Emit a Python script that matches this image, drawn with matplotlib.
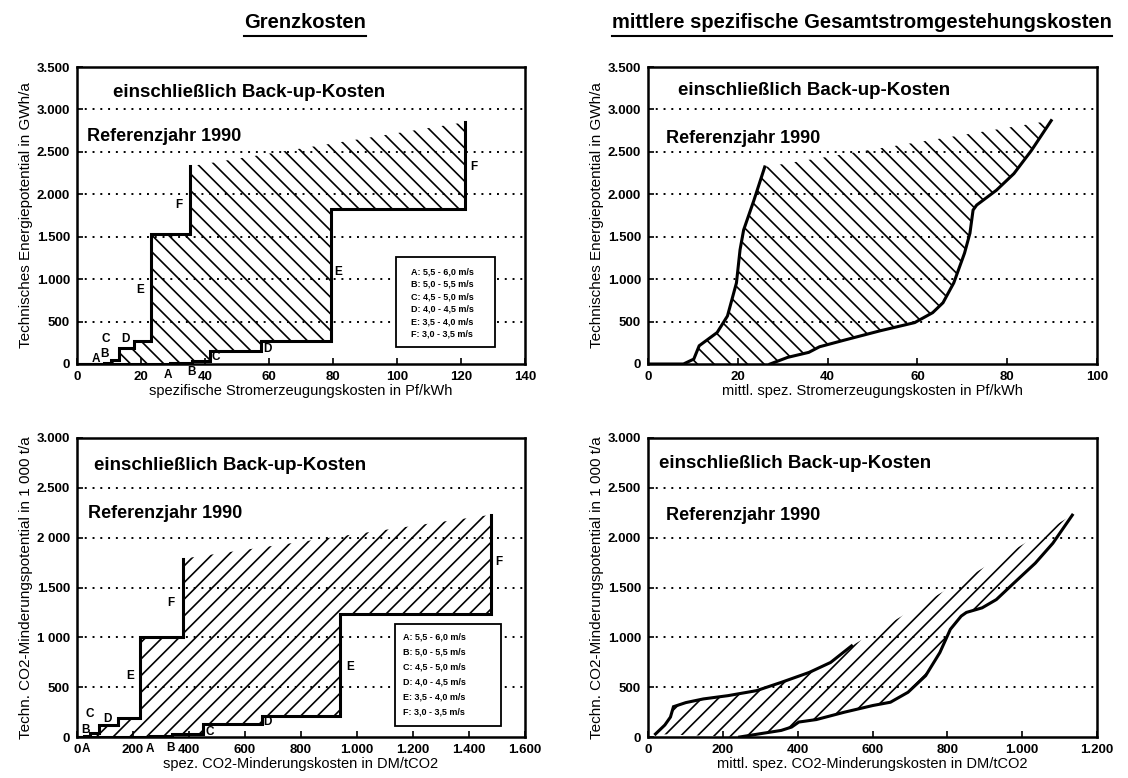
import matplotlib
matplotlib.use("Agg")
import matplotlib.pyplot as plt
from matplotlib.patches import Polygon, Rectangle
from matplotlib.lines import Line2D

plt.rcParams['font.family'] = ['Liberation Sans', 'DejaVu Sans']
plt.rcParams['font.weight'] = 'bold'
plt.rcParams['hatch.linewidth'] = 1.2

# ---- Grenzkosten, Strom (step curves: edge positions and levels) ----
tl_up_x = [8.5, 10.5, 13, 17.8, 23, 35.3]
tl_up_y = [15, 50, 190, 270, 1530, 2330]
tl_lo_x = [29, 36, 41.5, 57.5, 79.4, 121.4]
tl_lo_y = [10, 40, 150, 270, 1830, 2850]

# ---- mittlere Kosten, Strom ----
tr_up_x = [0, 7.9, 10.2, 11.4, 15.4, 17.7, 19.7, 20.5, 21.3, 23.6, 26.0]
tr_up_y = [0, 0, 58, 215, 371, 566, 956, 1346, 1580, 1931, 2322]
tr_lo_x = [27.2, 31.1, 35.8, 38.2, 43.7, 51.6, 59.4, 63.4, 65.7, 68.1, 70.5,
           71.7, 72.4, 73.2, 77.6, 81.5, 85.4, 89.8]
tr_lo_y = [0, 78, 137, 203, 281, 390, 488, 605, 722, 956, 1307,
           1541, 1814, 1873, 2048, 2244, 2517, 2868]

# ---- Grenzkosten, CO2 ----
bl_up_x = [25, 45, 80, 148, 225, 380]
bl_up_y = [15, 40, 117, 195, 1000, 1790]
bl_lo_x = [260, 340, 450, 660, 941, 1480]
bl_lo_y = [10, 30, 134, 215, 1230, 2230]

# ---- mittlere Kosten, CO2 ----
br_up_x = [20, 45, 60, 68, 101, 148, 214, 290, 356, 431, 488, 544]
br_up_y = [30, 120, 200, 304, 345, 382, 415, 465, 548, 648, 748, 914]
br_lo_x = [245, 300, 356, 384, 403, 450, 525, 601, 648, 695, 742, 780, 808,
           837, 851, 893, 931, 978, 1035, 1082, 1134]
br_lo_y = [0, 33, 66, 100, 150, 175, 249, 316, 349, 449, 615, 847, 1080,
           1213, 1250, 1296, 1379, 1545, 1744, 1944, 2226]

legend_lines = ["A: 5,5 - 6,0 m/s", "B: 5,0 - 5,5 m/s", "C: 4,5 - 5,0 m/s",
                "D: 4,0 - 4,5 m/s", "E: 3,5 - 4,0 m/s", "F: 3,0 - 3,5 m/s"]
letters = ["A", "B", "C", "D", "E", "F"]
tl_up_lab = [(5.9, 60), (8.6, 120), (8.9, 300), (15.0, 290), (19.7, 870), (31.9, 1870)]
tl_lo_lab = [(28.5, -130), (35.7, -100), (43.5, 80), (59.5, 180), (81.5, 1085), (124, 2320)]
bl_up_lab = [(32, -124), (32, 67), (44, 230), (110, 180), (190, 615), (336, 1344)]
bl_lo_lab = [(260, -124), (333, -114), (475, 50), (680, 150), (975, 700), (1505, 1757)]


def steps(edges, levels):
    xs, ys, prev = [0], [0], 0
    for x, y in zip(edges, levels):
        xs += [x, x]
        ys += [prev, y]
        prev = y
    return xs, ys


fig = plt.figure(figsize=(11.28, 7.78), dpi=100)
W, H = 1128, 778


def make_ax(l, r, t, b):
    return fig.add_axes([l / W, 1 - b / H, (r - l) / W, (b - t) / H])


ax_tl = make_ax(77, 525, 67, 364)
ax_tr = make_ax(648, 1097, 67, 364)
ax_bl = make_ax(77, 525, 438, 737)
ax_br = make_ax(648, 1097, 438, 737)


def style(ax, xmax, xticks, xlabs, ymax, yticks, ylabs, xlabel, ylabel, tx):
    ax.set_xlim(0, xmax)
    ax.set_ylim(0, ymax)
    ax.set_xticks(xticks)
    ax.set_xticklabels(xlabs)
    ax.set_yticks(yticks)
    ax.set_yticklabels(ylabs)
    ax.tick_params(direction='in', length=4, width=1.2, labelsize=9.5, pad=5)
    for s in ax.spines.values():
        s.set_linewidth(1.8)
    for y in yticks[1:]:
        ax.axhline(y, color='black', lw=1.4, ls=(0, (1, 3)), zorder=0)
    ax.set_xlabel(xlabel, fontsize=10.5, labelpad=1)
    ax.set_ylabel(ylabel, fontsize=11, labelpad=3)
    ax.text(tx[0], tx[1], "einschließlich Back-up-Kosten", transform=ax.transAxes,
            fontsize=13.5, va='center')
    ax.text(tx[2], tx[3], "Referenzjahr 1990", transform=ax.transAxes,
            fontsize=13, va='center')


def region(ax, ux, uy, lx, ly, hatch):
    verts = list(zip(ux, uy)) + list(zip(lx, ly))[::-1]
    ax.add_patch(Polygon(verts, closed=True, facecolor='none', edgecolor='black',
                         linewidth=0, hatch=hatch))
    ax.plot(ux, uy, color='black', lw=2.2, solid_joinstyle='miter')
    ax.plot(lx, ly, color='black', lw=2.2, solid_joinstyle='miter')


def legend_box(ax, x0, y0, x1, y1, tx, rows):
    ax.add_patch(Rectangle((x0, y0), x1 - x0, y1 - y0, transform=ax.transAxes,
                           facecolor='white', edgecolor='black', lw=1.3, zorder=3))
    for i, s in enumerate(legend_lines):
        y = rows[0] + (rows[1] - rows[0]) * i / 5
        ax.text(tx, y, s, transform=ax.transAxes, fontsize=6.5, va='center', zorder=4)


def put_letters(ax, pos):
    for (x, y), c in zip(pos, letters):
        ax.text(x, y, c, fontsize=8.5, ha='center', va='center', clip_on=False)


# top left
style(ax_tl, 140, range(0, 141, 20), [str(v) for v in range(0, 141, 20)],
      3500, list(range(0, 3501, 500)),
      ["0", "500", "1.000", "1.500", "2.000", "2.500", "3.000", "3.500"],
      "spezifische Stromerzeugungskosten in Pf/kWh",
      "Technisches Energiepotential in GWh/a", (0.08, 0.915, 0.022, 0.765))
ux, uy = steps(tl_up_x, tl_up_y)
lx, ly = steps(tl_lo_x, tl_lo_y)
region(ax_tl, ux, uy, lx, ly, '\\\\')
legend_box(ax_tl, 0.711, 0.058, 0.932, 0.36, 0.745, (0.31, 0.10))
put_letters(ax_tl, tl_up_lab)
put_letters(ax_tl, tl_lo_lab)

# top right
style(ax_tr, 100, range(0, 101, 20), [str(v) for v in range(0, 101, 20)],
      3500, list(range(0, 3501, 500)),
      ["0", "500", "1.000", "1.500", "2.000", "2.500", "3.000", "3.500"],
      "mittl. spez. Stromerzeugungskosten in Pf/kWh",
      "Technisches Energiepotential in GWh/a", (0.067, 0.92, 0.04, 0.76))
region(ax_tr, tr_up_x, tr_up_y, tr_lo_x, tr_lo_y, '\\\\')

# bottom left
style(ax_bl, 1600, range(0, 1601, 200),
      ["0", "200", "400", "600", "800", "1.000", "1.200", "1.400", "1.600"],
      3000, list(range(0, 3001, 500)),
      ["0", "500", "1 000", "1.500", "2 000", "2.500", "3.000"],
      "spez. CO2-Minderungskosten in DM/tCO2",
      "Techn. CO2-Minderungspotential in 1 000 t/a", (0.037, 0.907, 0.024, 0.748))
ux, uy = steps(bl_up_x, bl_up_y)
lx, ly = steps(bl_lo_x, bl_lo_y)
region(ax_bl, ux, uy, lx, ly, '//')
legend_box(ax_bl, 0.71, 0.037, 0.946, 0.378, 0.728, (0.336, 0.085))
put_letters(ax_bl, bl_up_lab)
put_letters(ax_bl, bl_lo_lab)

# bottom right
style(ax_br, 1200, range(0, 1201, 200),
      ["0", "200", "400", "600", "800", "1.000", "1.200"],
      3000, list(range(0, 3001, 500)),
      ["0", "500", "1.000", "1.500", "2.000", "2.500", "3.000"],
      "mittl. spez. CO2-Minderungskosten in DM/tCO2",
      "Techn. CO2-Minderungspotential in 1 000 t/a", (0.025, 0.914, 0.039, 0.742))
region(ax_br, br_up_x, br_up_y, br_lo_x, br_lo_y, '//')

# titles with underline
t1 = fig.text(305 / W, 1 - 22 / H, "Grenzkosten", ha='center', va='center', fontsize=14.5)
t2 = fig.text(862 / W, 1 - 22 / H, "mittlere spezifische Gesamtstromgestehungskosten",
              ha='center', va='center', fontsize=14.5)
fig.canvas.draw()
for t in (t1, t2):
    bb = t.get_window_extent()
    fig.add_artist(Line2D([bb.x0 / W, bb.x1 / W], [1 - 36 / H, 1 - 36 / H],
                          color='black', lw=1.5, transform=fig.transFigure))

fig.savefig("out.png", dpi=100)
